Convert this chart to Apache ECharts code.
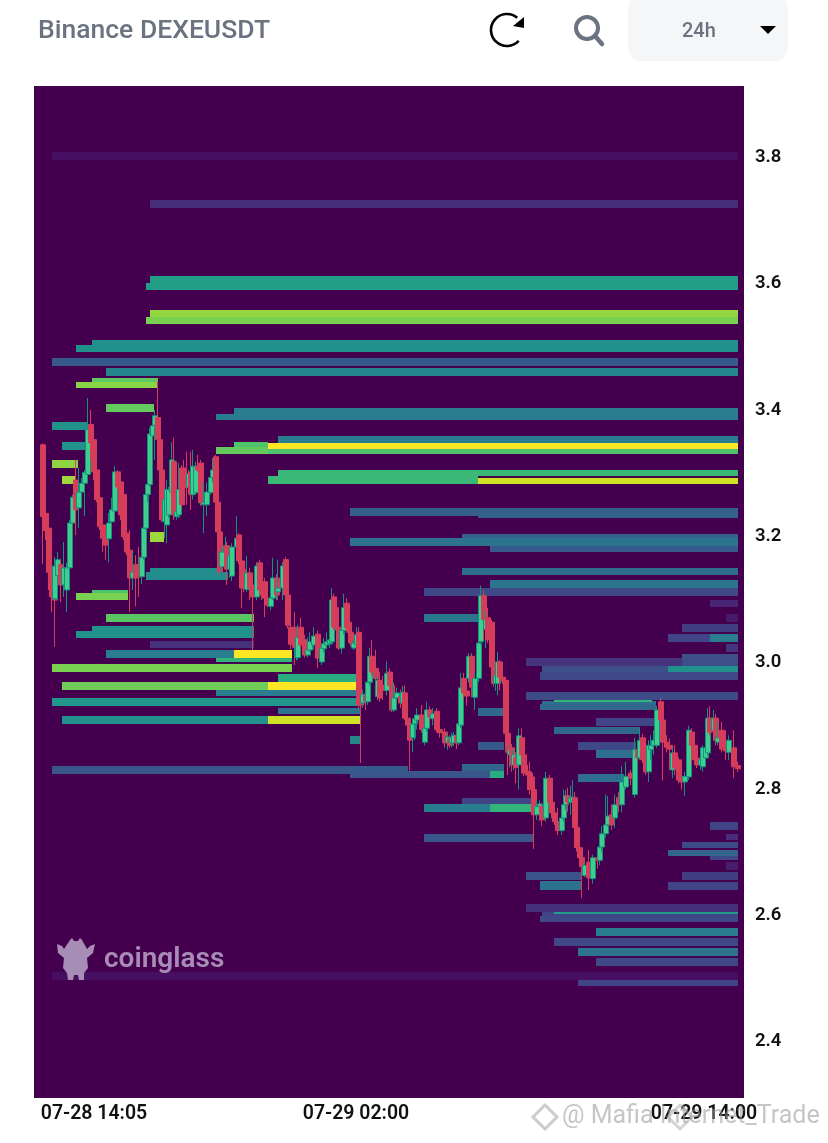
<!DOCTYPE html>
<html>
<head>
<meta charset="utf-8">
<style>html,body{margin:0;padding:0;background:#fff}#c{width:828px;height:1143px}</style>
<script src="https://cdn.jsdelivr.net/npm/echarts@6/dist/echarts.min.js"></script>
</head>
<body>
<div id="c"></div>
<script>
// Time unit: 1/29 hour from the first candle. Prices in USDT.
const yTickValues = [2.4,2.6,2.8,3.0,3.2,3.4,3.6,3.8];
const xTickValues = [51,313,661];
const xTickLabels = ['07-28 14:05','07-29 02:00','07-29 14:00'];

// candle rows: [time, open, close, low, high]
const candlesA = [
[0,3.341,3.227,3.152,3.343],[3,3.232,3.205,3.190,3.238],[6,3.209,3.139,3.111,3.214],[9,3.143,3.100,3.076,3.190],
[12,3.105,3.095,3.021,3.110],[12,3.097,3.149,3.095,3.163],[15,3.134,3.159,3.095,3.171],[18,3.151,3.119,3.092,3.159],
[21,3.119,3.146,3.100,3.187],[24,3.111,3.146,3.076,3.154],[27,3.146,3.217,3.143,3.222],[30,3.217,3.258,3.197,3.262],
[33,3.285,3.238,3.198,3.317],[36,3.241,3.266,3.209,3.304],[39,3.266,3.280,3.244,3.288],[42,3.280,3.297,3.228,3.301],
[45,3.294,3.365,3.290,3.415],[48,3.373,3.344,3.317,3.396],[51,3.349,3.298,3.285,3.361],[54,3.301,3.254,3.250,3.304],
[57,3.257,3.211,3.206,3.260],[60,3.214,3.193,3.171,3.225],[63,3.209,3.182,3.159,3.214],[66,3.192,3.217,3.155,3.233],
[69,3.219,3.238,3.214,3.257],[72,3.236,3.298,3.233,3.307],[75,3.298,3.274,3.269,3.301],[78,3.282,3.230,3.222,3.298],
[81,3.262,3.195,3.190,3.266],[84,3.201,3.171,3.166,3.254],[87,3.174,3.130,3.076,3.206],[90,3.130,3.139,3.111,3.171],
[93,3.151,3.130,3.085,3.166],[96,3.151,3.132,3.100,3.179],[99,3.132,3.163,3.120,3.179],[101,3.163,3.209,3.159,3.214],
[103,3.209,3.262,3.206,3.270],[105,3.262,3.278,3.250,3.285],[107,3.278,3.358,3.274,3.368],[110,3.355,3.371,3.349,3.380],
[112,3.372,3.387,3.317,3.396],[115,3.384,3.349,3.341,3.441],[117,3.349,3.301,3.296,3.353],[119,3.301,3.222,3.219,3.304],
[122,3.219,3.254,3.193,3.262],[124,3.214,3.270,3.185,3.285],[126,3.230,3.270,3.225,3.274],[129,3.266,3.317,3.262,3.345],
[131,3.314,3.230,3.222,3.352],[134,3.227,3.235,3.222,3.238],[136,3.230,3.270,3.225,3.312],[139,3.304,3.246,3.241,3.309],
[141,3.304,3.278,3.274,3.317],[144,3.281,3.273,3.246,3.330],[146,3.274,3.295,3.269,3.301],[148,3.298,3.262,3.238,3.330],
[150,3.262,3.307,3.254,3.333],[153,3.265,3.306,3.262,3.314],[155,3.307,3.301,3.298,3.325],[158,3.312,3.249,3.244,3.317],
[161,3.246,3.250,3.201,3.281],[164,3.246,3.266,3.228,3.281],[168,3.265,3.289,3.262,3.293],[170,3.289,3.301,3.282,3.320]
];
const candlesB = [
[173,3.322,3.250,3.246,3.325],[175,3.250,3.203,3.198,3.254],[177,3.203,3.140,3.135,3.206],[179,3.148,3.171,3.140,3.178],
[183,3.171,3.181,3.144,3.195],[184,3.181,3.144,3.119,3.187],[187,3.144,3.165,3.130,3.170],[189,3.133,3.179,3.125,3.185],
[194,3.179,3.193,3.171,3.228],[196,3.198,3.157,3.152,3.201],[199,3.157,3.114,3.082,3.182],[201,3.143,3.115,3.108,3.151],
[204,3.112,3.138,3.108,3.165],[207,3.138,3.114,3.095,3.146],[210,3.119,3.100,3.016,3.122],[214,3.100,3.149,3.095,3.155],
[217,3.154,3.111,3.105,3.159],[219,3.111,3.103,3.095,3.151],[222,3.124,3.098,3.068,3.130],[225,3.098,3.087,3.084,3.103],
[228,3.085,3.098,3.079,3.101],[230,3.098,3.130,3.095,3.162],[234,3.130,3.103,3.095,3.136],[235,3.108,3.114,3.095,3.159],
[240,3.114,3.149,3.095,3.155],[243,3.159,3.103,3.098,3.163],[245,3.103,3.055,3.050,3.108],[248,3.052,3.025,3.017,3.073],
[252,3.052,3.020,2.992,3.076],[254,3.004,3.020,3.000,3.028],[255,3.004,3.036,3.000,3.056],[258,3.052,3.024,3.016,3.067],
[262,3.032,3.008,3.004,3.040],[265,3.008,3.016,3.004,3.036],[267,3.016,3.029,3.013,3.044],[271,3.024,3.038,3.016,3.052],
[275,3.041,3.003,2.987,3.047],[279,2.997,3.019,2.992,3.024],[281,3.018,3.026,3.013,3.035],[284,3.024,3.029,3.019,3.044],
[287,3.026,3.032,3.019,3.044],[289,3.029,3.095,3.024,3.114],[291,3.100,3.052,3.047,3.105],[293,3.083,3.052,3.047,3.090],
[296,3.052,3.019,3.016,3.064],[299,3.019,3.047,3.010,3.052],[301,3.047,3.083,3.041,3.105],[304,3.090,3.051,3.045,3.098],
[306,3.060,3.044,3.038,3.066],[308,3.044,3.027,3.021,3.056],[311,3.019,3.027,3.016,3.032],[314,3.024,3.040,3.016,3.052],
[316,3.044,2.929,2.924,3.052],[318,2.937,2.929,2.837,2.941],[320,2.932,2.946,2.924,2.953],[323,2.945,2.934,2.921,2.953],
[325,2.934,2.965,2.929,2.971],[327,2.965,3.006,2.960,3.019],[329,3.006,2.981,2.976,3.032],[333,2.987,2.971,2.968,3.016]
];
const candlesC = [
[335,2.942,2.968,2.937,2.975],[337,2.968,2.940,2.934,2.981],[340,2.960,2.952,2.937,2.975],[344,2.952,2.979,2.944,2.998],
[347,2.981,2.960,2.956,2.987],[349,2.960,2.921,2.918,2.965],[351,2.921,2.940,2.918,2.965],[354,2.940,2.948,2.937,2.956],
[358,2.942,2.932,2.924,2.953],[360,2.932,2.949,2.924,2.959],[362,2.948,2.908,2.905,2.960],[365,2.908,2.897,2.892,2.913],
[367,2.897,2.873,2.825,2.905],[370,2.877,2.899,2.854,2.905],[372,2.899,2.907,2.873,2.913],[374,2.905,2.913,2.890,2.924],
[379,2.913,2.890,2.885,2.929],[382,2.870,2.892,2.865,2.899],[384,2.892,2.921,2.886,2.934],[387,2.921,2.910,2.902,2.927],
[390,2.907,2.915,2.897,2.924],[394,2.919,2.890,2.885,2.924],[397,2.890,2.885,2.877,2.897],[402,2.886,2.869,2.861,2.892],
[405,2.869,2.878,2.858,2.885],[407,2.875,2.865,2.861,2.881],[409,2.869,2.878,2.862,2.885],[411,2.869,2.881,2.864,2.886],
[414,2.880,2.869,2.859,2.886],[416,2.869,2.899,2.865,2.905],[418,2.897,2.956,2.892,2.980],[421,2.971,2.948,2.937,2.980],
[424,2.951,2.943,2.928,2.968],[426,2.971,3.006,2.965,3.011],[429,3.006,2.957,2.941,3.011],[432,2.941,2.971,2.921,2.980],
[436,2.971,3.027,2.965,3.032],[438,3.029,3.102,3.024,3.118],[441,3.102,3.064,3.032,3.111],[443,3.049,3.064,3.019,3.079],
[445,3.067,3.032,3.027,3.083],[449,3.060,2.989,2.984,3.064],[451,2.995,2.963,2.958,3.000],[453,2.963,2.975,2.951,2.981],
[455,2.963,2.997,2.944,3.013],[457,2.997,2.973,2.952,3.000],[460,2.973,2.967,2.962,2.994],[463,2.968,2.884,2.880,2.971],
[465,2.884,2.854,2.818,2.889],[467,2.850,2.858,2.830,2.865],[469,2.861,2.834,2.823,2.867],[471,2.834,2.850,2.826,2.858],
[473,2.846,2.830,2.805,2.854],[476,2.834,2.880,2.795,2.892],[479,2.877,2.850,2.845,2.892],[481,2.850,2.821,2.816,2.854]
];
const candlesD = [
[485,2.824,2.818,2.795,2.834],[487,2.821,2.795,2.787,2.839],[489,2.815,2.795,2.787,2.823],[491,2.795,2.755,2.701,2.801],
[494,2.755,2.768,2.747,2.778],[497,2.768,2.772,2.745,2.778],[499,2.768,2.747,2.737,2.774],[503,2.750,2.813,2.744,2.823],
[507,2.813,2.775,2.769,2.818],[509,2.775,2.758,2.750,2.795],[512,2.758,2.744,2.739,2.766],[515,2.744,2.730,2.723,2.766],
[519,2.730,2.750,2.723,2.763],[521,2.750,2.771,2.744,2.795],[523,2.771,2.785,2.763,2.795],[525,2.785,2.775,2.760,2.798],
[528,2.775,2.782,2.755,2.801],[530,2.777,2.783,2.771,2.810],[532,2.782,2.735,2.731,2.791],[534,2.735,2.703,2.697,2.750],
[537,2.703,2.687,2.683,2.707],[539,2.687,2.673,2.623,2.692],[542,2.659,2.675,2.656,2.680],[546,2.680,2.655,2.636,2.699],
[550,2.654,2.687,2.646,2.692],[555,2.687,2.683,2.670,2.699],[557,2.683,2.704,2.675,2.707],[559,2.704,2.725,2.697,2.737],
[563,2.725,2.739,2.719,2.787],[565,2.739,2.753,2.737,2.785],[569,2.755,2.739,2.731,2.771],[572,2.750,2.771,2.734,2.787],
[576,2.782,2.771,2.759,2.791],[579,2.771,2.807,2.759,2.832],[583,2.799,2.816,2.795,2.839],[588,2.821,2.813,2.802,2.826]
];
const candlesE = [
[592,2.787,2.858,2.782,2.877],[595,2.858,2.845,2.839,2.865],[597,2.845,2.873,2.842,2.892],[600,2.877,2.842,2.837,2.883],
[603,2.842,2.823,2.818,2.850],[606,2.823,2.865,2.807,2.873],[608,2.858,2.865,2.842,2.881],[611,2.865,2.873,2.850,2.889],
[614,2.865,2.921,2.861,2.927],[618,2.934,2.905,2.899,2.940],[620,2.905,2.870,2.809,2.924],[624,2.870,2.862,2.854,2.881],
[627,2.865,2.859,2.826,2.876],[630,2.826,2.853,2.813,2.861],[632,2.853,2.829,2.818,2.865],[636,2.842,2.810,2.805,2.846],
[639,2.810,2.807,2.795,2.818],[642,2.807,2.816,2.785,2.823],[646,2.815,2.889,2.810,2.896],[649,2.886,2.865,2.834,2.892],
[652,2.865,2.842,2.834,2.881],[654,2.845,2.834,2.829,2.865],[658,2.834,2.842,2.826,2.850],[660,2.831,2.861,2.823,2.865],
[663,2.845,2.861,2.835,2.870],[665,2.853,2.908,2.848,2.924],[667,2.908,2.886,2.881,2.927],[671,2.889,2.908,2.881,2.921],
[673,2.908,2.873,2.865,2.915],[675,2.870,2.877,2.865,2.902],[679,2.889,2.859,2.854,2.902],[683,2.861,2.856,2.842,2.889],
[686,2.854,2.873,2.842,2.881],[691,2.861,2.831,2.813,2.889],[695,2.833,2.828,2.823,2.839]
];

// liquidation bands: [timeStart, timeEnd, priceLow, priceHigh, intensity 0..1]
const bandsUpper = [
[9,695,3.792,3.805,.04],[107,695,3.716,3.729,.13],
[107,695,3.597,3.608,.55],[103,695,3.586,3.597,.55],
[107,695,3.543,3.555,.84],[103,695,3.532,3.543,.8],
[49,695,3.499,3.507,.5],[33,695,3.488,3.499,.5],
[9,695,3.466,3.479,.28],[63,695,3.450,3.463,.45],
[49,115,3.440,3.447,.75],[33,115,3.431,3.440,.82],
[63,111,3.393,3.406,.76],[9,45,3.364,3.377,.5],[19,43,3.333,3.345,.5],
[191,695,3.390,3.399,.42],[173,695,3.380,3.390,.42],
[235,695,3.342,3.355,.42],[191,225,3.336,3.345,.72],[173,225,3.326,3.338,.76],
[225,695,3.334,3.344,1],[225,695,3.326,3.334,.72],
[9,35,3.304,3.317,.83],[19,33,3.279,3.292,.85],
[235,695,3.292,3.301,.67],[225,435,3.279,3.292,.67],[435,695,3.279,3.288,.93]
];
const bandsMiddle = [
[307,695,3.228,3.241,.3],[435,695,3.225,3.231,.31],
[419,695,3.189,3.200,.3],[307,695,3.181,3.193,.38],[447,695,3.171,3.181,.28],
[107,121,3.187,3.203,.85],
[107,179,3.135,3.146,.48],[103,185,3.127,3.140,.48],
[49,85,3.105,3.111,.72],[33,85,3.095,3.106,.8],
[63,211,3.060,3.073,.74],[49,211,3.046,3.054,.5],[33,211,3.035,3.046,.5],
[107,211,3.019,3.030,.14],[63,191,3.003,3.016,.42],[191,249,3.003,3.016,1],
[173,249,2.997,3.003,.65],[9,249,2.981,2.994,.8],
[235,315,2.965,2.978,.62],[19,225,2.953,2.965,.78],[225,315,2.953,2.965,1],
[173,315,2.943,2.953,.42],[9,317,2.927,2.940,.52],[235,317,2.915,2.924,.38],
[19,225,2.899,2.912,.5],[225,317,2.899,2.912,.93],[307,317,2.867,2.880,.45]
];
const bandsRight = [
[419,695,3.135,3.146,.36],[381,695,3.101,3.114,.22],[447,695,3.114,3.127,.38],
[381,439,3.060,3.073,.4],[667,695,3.084,3.095,.1],[683,695,3.060,3.073,.07],
[639,695,3.045,3.057,.18],[625,667,3.029,3.041,.2],[667,695,3.029,3.041,.42],
[683,695,3.013,3.026,.15],[483,639,2.991,3.003,.15],[639,695,2.991,3.010,.24],
[499,625,2.978,2.991,.24],[625,695,2.981,2.991,.5],[497,695,2.969,2.981,.22],
[483,695,2.937,2.949,.23],[499,613,2.927,2.936,.36],[497,613,2.921,2.931,.33],[511,609,2.934,2.937,.65],
[435,461,2.912,2.924,.33],[553,613,2.896,2.908,.2],[511,597,2.883,2.894,.33],
[435,461,2.858,2.870,.28],[535,593,2.858,2.870,.22],[553,593,2.845,2.858,.36],
[535,581,2.807,2.820,.36]
];
const bandsLower = [
[9,307,2.820,2.832,.27],[307,365,2.825,2.832,.28],[307,447,2.814,2.825,.27],[447,461,2.814,2.825,.62],[419,461,2.825,2.835,.33],
[419,489,2.769,2.782,.2],[381,447,2.759,2.772,.42],[447,489,2.759,2.772,.65],[381,491,2.712,2.725,.27],
[667,695,2.731,2.744,.2],[683,695,2.715,2.725,.12],[639,695,2.702,2.712,.23],[625,695,2.690,2.699,.32],[667,695,2.683,2.690,.22],
[683,695,2.668,2.680,.08],[639,695,2.652,2.664,.18],[483,539,2.652,2.664,.25],[497,539,2.636,2.650,.38],[625,695,2.636,2.649,.2],
[483,695,2.601,2.614,.14],[499,695,2.592,2.601,.2],[497,695,2.585,2.595,.22],[511,695,2.598,2.601,.55],
[553,695,2.563,2.576,.42],[511,695,2.547,2.560,.22],[535,695,2.531,2.544,.38],[553,695,2.516,2.528,.22],
[9,695,2.493,2.506,.04],[535,695,2.484,2.493,.2]
];
const viridis = ['#440154','#482475','#414487','#355f8d','#2a788e','#21918c','#22a884','#44bf70','#7ad151','#bddf26','#fde725'];

const candles = [...candlesA,...candlesB,...candlesC,...candlesD,...candlesE];
const bands = [...bandsUpper,...bandsMiddle,...bandsRight,...bandsLower];

const FONT = 'Roboto';
const GREY = '#6b7280';
const LOGO = '#a78db6';
const chart = echarts.init(document.getElementById('c'), null, {renderer:'canvas'});
chart.setOption({
  animation:false,
  backgroundColor:'#ffffff',
  grid:{left:34,right:84,top:86,bottom:45,show:true,backgroundColor:'#44004f',borderWidth:0},
  xAxis:{type:'value',min:-9,max:701,
    splitLine:{show:false},axisLine:{show:false},axisTick:{show:false},
    axisLabel:{customValues:xTickValues,color:'#111',fontFamily:FONT,fontWeight:600,fontSize:19.5,margin:6,
      formatter:v=>xTickLabels[xTickValues.indexOf(v)]||''}},
  yAxis:{type:'value',position:'right',min:2.3066,max:3.909,scale:true,
    splitLine:{show:false},axisLine:{show:false},axisTick:{show:false},
    axisLabel:{customValues:yTickValues,margin:11,
      rich:{t:{color:'#111',fontFamily:FONT,fontWeight:600,fontSize:18.5,padding:[5,0,0,0]}},
      formatter:v=>'{t|'+v.toFixed(1)+'}'}},
  visualMap:{show:false,seriesIndex:0,dimension:4,min:0,max:1,inRange:{color:viridis}},
  series:[
    {type:'custom',data:bands,encode:{x:[0,1],y:[2,3]},clip:true,z:2,
     renderItem:(p,api)=>{
       const a=api.coord([api.value(0),api.value(3)]);
       const b=api.coord([api.value(1),api.value(2)]);
       const x0=Math.round(a[0]),y0=Math.round(a[1]);
       return {type:'rect',shape:{x:x0,y:y0,width:Math.round(b[0])-x0,height:Math.round(b[1])-y0},
         style:{fill:api.visual('color')}};
     }},
    {type:'candlestick',data:candles,encode:{x:0,y:[1,2,3,4]},barWidth:5,z:3,
     itemStyle:{color:'#3ecf8e',color0:'#d63d5b',borderColor:'#12937f',borderColor0:'#d63d5b',borderWidth:1}}
  ],
  graphic:[
    // header
    {type:'text',left:38,top:18,style:{text:'Binance DEXEUSDT',font:'500 26.5px Roboto',fill:GREY}},
    {type:'arc',shape:{cx:507,cy:30,r:16,startAngle:-Math.PI*0.28,endAngle:Math.PI*0.24,clockwise:false},style:{stroke:'#000',lineWidth:2.6,fill:'none'}},
    {type:'polygon',shape:{points:[[524,17],[524,28],[513,26]]},style:{fill:'#000'}},
    {type:'circle',shape:{cx:587,cy:28,r:11},style:{stroke:GREY,lineWidth:4,fill:'none'}},
    {type:'line',shape:{x1:595,y1:36,x2:602,y2:44},style:{stroke:GREY,lineWidth:4.5,lineCap:'round'}},
    {type:'rect',shape:{x:628,y:-6,width:160,height:67,r:14},style:{fill:'#f5f6f8'}},
    {type:'text',left:682,top:22,style:{text:'24h',font:'500 20px Roboto',fill:GREY}},
    {type:'polygon',shape:{points:[[760,26],[776,26],[768,34]]},style:{fill:'#000'}},
    // logo
    {type:'polygon',z:50,shape:{points:[[57,944],[62,946],[64,949],[70,940],[72,938],[74,941],[78,941],[80,938],[82,940],[87,949],[90,946],[95,944],[93,953],[87,958],[88,968],[84,973],[84,980],[79,980],[78,975],[74,975],[73,980],[68,980],[67,973],[63,968],[64,958],[58,953]]},style:{fill:LOGO}},
    {type:'text',z:50,left:104,top:946,style:{text:'coinglass',font:'600 28px Roboto',fill:LOGO}},
    // watermark
    {type:'text',z:60,left:562,top:1104,style:{text:'@ Mafia Internet_Trade',font:'25px Roboto',fill:'rgba(150,150,150,0.55)'}},
    {type:'polygon',z:60,shape:{points:[[545,1105],[557,1117],[545,1129],[533,1117]]},style:{fill:'none',stroke:'rgba(170,170,170,0.6)',lineWidth:3}},
    {type:'polygon',z:60,shape:{points:[[680,1105],[692,1117],[680,1129],[668,1117]]},style:{fill:'none',stroke:'rgba(170,170,170,0.5)',lineWidth:3}}
  ]
});
</script>
</body>
</html>
